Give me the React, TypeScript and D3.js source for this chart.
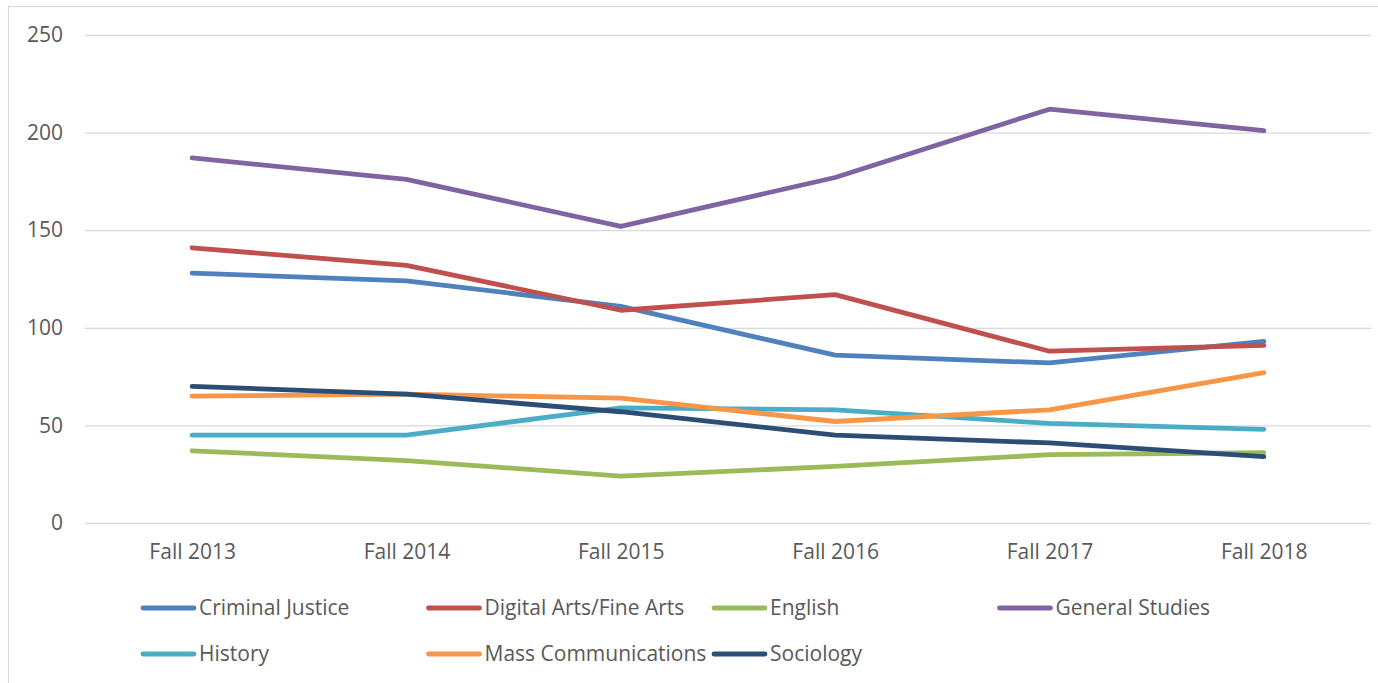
import { useRef, useEffect } from "react";
import * as d3 from "d3";

// --- data ---
const terms = ["Fall 2013", "Fall 2014", "Fall 2015", "Fall 2016", "Fall 2017", "Fall 2018"];
const majors = [
  "Criminal Justice",
  "Digital Arts/Fine Arts",
  "English",
  "General Studies",
  "History",
  "Mass Communications",
  "Sociology",
];
const criminalJustice = [128, 124, 111, 86, 82, 93];
const digitalArts = [141, 132, 109, 117, 88, 91];
const english = [37, 32, 24, 29, 35, 36];
const generalStudies = [187, 176, 152, 177, 212, 201];
const history = [45, 45, 59, 58, 51, 48];
const massComm = [65, 66, 64, 52, 58, 77];
const sociology = [70, 66, 57, 45, 41, 34];
const yTicks = [0, 50, 100, 150, 200, 250];

const colors = ["#4F81BD", "#C0504D", "#9BBB59", "#8064A2", "#4BACC6", "#F79646", "#2C4D75"];

export default function App() {
  const ref = useRef<SVGSVGElement>(null);

  useEffect(() => {
    const width = 1378;
    const height = 683;
    const margin = { top: 35, right: 7, bottom: 160, left: 85 };
    const font = "'Open Sans', sans-serif";
    const textColor = "#595959";

    const seriesValues = [criminalJustice, digitalArts, english, generalStudies, history, massComm, sociology];
    const series = majors.map((name, i) => ({
      name,
      color: colors[i],
      values: seriesValues[i].map((v, j) => ({ term: terms[j], value: v })),
    }));

    const svg = d3.select(ref.current)
      .attr("width", width)
      .attr("height", height)
      .attr("viewBox", `0 0 ${width} ${height}`)
      .style("position", "absolute")
      .style("left", "0px")
      .style("top", "0px")
      .style("font-family", font);

    svg.selectAll("*").remove();

    svg.append("rect")
      .attr("width", width)
      .attr("height", height)
      .attr("fill", "#fff");

    // chart border
    svg.append("rect")
      .attr("x", 8.5)
      .attr("y", 6.5)
      .attr("width", width + 10)
      .attr("height", height + 10)
      .attr("fill", "none")
      .attr("stroke", "#D9D9D9")
      .attr("stroke-width", 1.2);

    const x = d3.scalePoint<string>()
      .domain(terms)
      .range([margin.left, width - margin.right])
      .padding(0.5);

    const y = d3.scaleLinear()
      .domain([0, 250])
      .range([height - margin.bottom, margin.top]);

    // gridlines + y labels
    const yAxis = svg.append("g")
      .attr("transform", `translate(${margin.left},0)`)
      .call(d3.axisLeft(y).tickValues(yTicks).tickSize(-(width - margin.left - margin.right)).tickPadding(22))
      .call(g => g.select(".domain").remove());
    yAxis.selectAll(".tick line")
      .attr("stroke", "#D9D9D9")
      .attr("stroke-width", 1.3);
    yAxis.selectAll(".tick text")
      .attr("fill", textColor)
      .attr("font-size", 21)
      .attr("font-family", font);

    // x labels
    const xAxis = svg.append("g")
      .attr("transform", `translate(0,${height - margin.bottom})`)
      .call(d3.axisBottom(x).tickSize(0).tickPadding(21))
      .call(g => g.select(".domain").remove());
    xAxis.selectAll(".tick text")
      .attr("fill", textColor)
      .attr("font-size", 21)
      .attr("font-family", font);

    // lines
    const line = d3.line<{ term: string; value: number }>()
      .x(d => x(d.term)!)
      .y(d => y(d.value));

    svg.append("g")
      .selectAll("path")
      .data(series)
      .join("path")
      .attr("d", d => line(d.values))
      .attr("fill", "none")
      .attr("stroke", d => d.color)
      .attr("stroke-width", 4.8)
      .attr("stroke-linejoin", "round")
      .attr("stroke-linecap", "round");

    // legend
    const legend = svg.append("g")
      .selectAll("g")
      .data(series)
      .join("g")
      .attr("transform", (_, i) => `translate(${141 + (i % 4) * 285.5},${608 + Math.floor(i / 4) * 46})`);

    legend.append("line")
      .attr("x1", 2)
      .attr("x2", 53)
      .attr("stroke", d => d.color)
      .attr("stroke-width", 4.8)
      .attr("stroke-linecap", "round");

    legend.append("text")
      .attr("x", 58)
      .attr("dy", "0.35em")
      .attr("fill", textColor)
      .attr("font-size", 21)
      .text(d => d.name);
  }, []);

  return <svg ref={ref}></svg>;
}
